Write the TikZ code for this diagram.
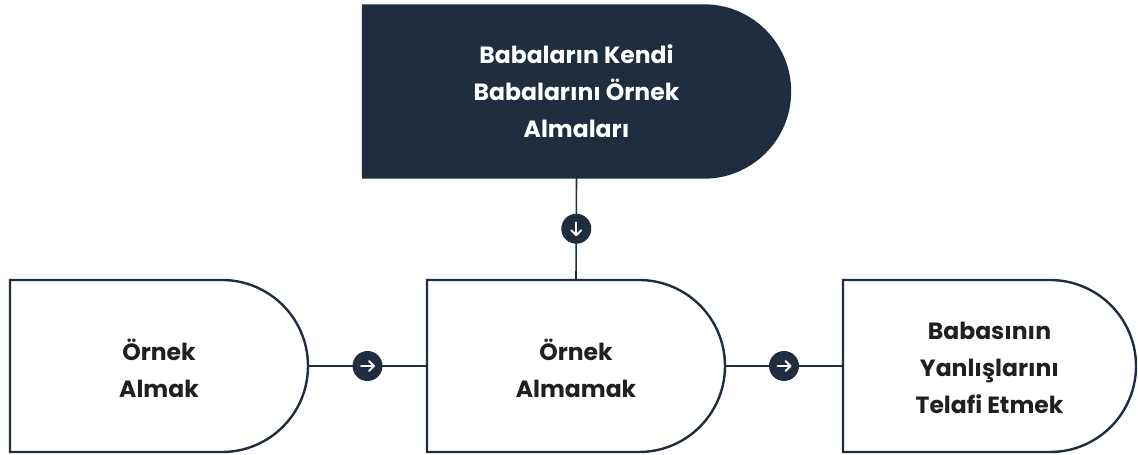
\documentclass[tikz,border=0pt]{standalone}
\usepackage{fontspec}
\setmainfont{Poppins}
\usetikzlibrary{calc}
\definecolor{navy}{HTML}{1F2D40}
\definecolor{ink}{HTML}{231F20}
\tikzset{
  frame/.style={rectangle,minimum width=#1,minimum height=172pt,inner sep=0pt,outer sep=0pt},
  label/.style={align=center,font=\fontsize{23.5}{37}\selectfont\bfseries,text=ink},
  conn/.style={draw=navy,line width=1.6pt},
  dot/.style={circle,fill=navy,minimum size=30pt,inner sep=0pt},
  icon/.style={draw=white,line width=1.8pt,line cap=round,line join=round}
}
\newcommand\dshape[2]{%
  \path[#2,line width=2.4pt] (#1.north west) -- ([xshift=-86pt]#1.north east)
    arc[start angle=90,end angle=-90,radius=86pt] -- (#1.south west) -- cycle;}
\begin{document}
\begin{tikzpicture}[x=1pt,y=1pt]
\useasboundingbox (0,0) rectangle (1138,455);
% frames
\node[frame=427pt] (top) at (576.5,363.5) {};
\node[frame=298pt] (left) at (159,89) {};
\node[frame=298pt] (mid) at (576,89) {};
\node[frame=293pt] (right) at (989.5,89) {};
% connectors
\draw[conn] (top.south) -- (mid.north);
\draw[conn] (left.east) -- (mid.west);
\draw[conn] (mid.east) -- (right.west);
% shapes
\dshape{top}{fill=navy,draw=navy}
\dshape{left}{fill=white,draw=navy}
\dshape{mid}{fill=white,draw=navy}
\dshape{right}{fill=white,draw=navy}
% texts
\node[label,text=white] (ttop) at (top) {Babaların Kendi\\Babalarını Örnek\\Almaları};
\node[label] (tleft) at ([yshift=-2pt]left.center) {Örnek\\Almak};
\node[label] (tmid) at ([yshift=-2pt]mid.center) {Örnek\\Almamak};
\node[label] (tright) at ([yshift=-2pt]right.center) {Babasının\\Yanlışlarını\\Telafi Etmek};
% dots
\node[dot] (d0) at ($(top.south)!0.5!(mid.north)$) {};
\node[dot] (d1) at ($(left.east)!0.5!(mid.west)$) {};
\node[dot] (d2) at ($(mid.east)!0.5!(right.west)$) {};
\draw[icon] ([yshift=6.5pt]d0.center) -- ([yshift=-6.5pt]d0.center);
\draw[icon] ([xshift=-5pt,yshift=-1.5pt]d0.center) -- ([yshift=-6.5pt]d0.center) -- ([xshift=5pt,yshift=-1.5pt]d0.center);
\foreach \d in {d1,d2}{
  \draw[icon] ([xshift=-6.5pt]\d.center) -- ([xshift=6.5pt]\d.center);
  \draw[icon] ([xshift=1.5pt,yshift=5pt]\d.center) -- ([xshift=6.5pt]\d.center) -- ([xshift=1.5pt,yshift=-5pt]\d.center);
}
\end{tikzpicture}
\end{document}
